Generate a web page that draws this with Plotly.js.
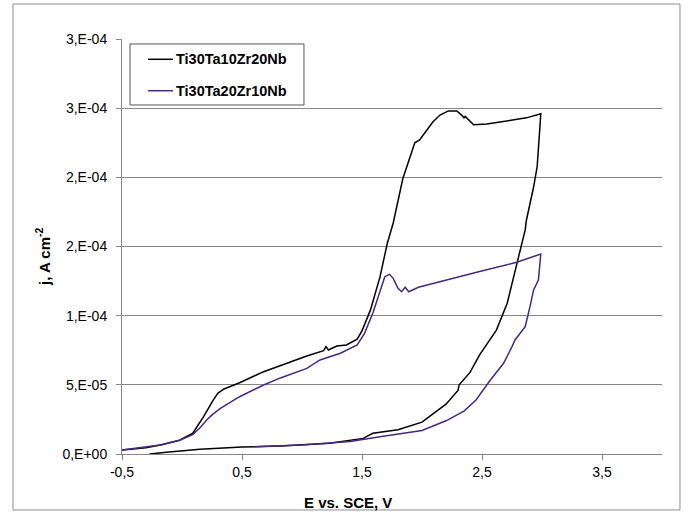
<!DOCTYPE html>
<html>
<head>
<meta charset="utf-8">
<script src="https://cdn.plot.ly/plotly-3.0.1.min.js"></script>
<style>html,body{margin:0;padding:0;background:#fff;}#chart{width:688px;height:513px;}</style>
</head>
<body>
<div id="chart"></div>
<script>
// Series names and colours
const seriesNames = ["Ti30Ta10Zr20Nb", "Ti30Ta20Zr10Nb"];
const seriesColors = ["#000000", "#46287f"];

// Ti30Ta10Zr20Nb (forward + reverse scan)
const blackE = [-0.5, -0.3, -0.18, -0.02, 0.09, 0.18, 0.26, 0.30, 0.35, 0.48, 0.68, 0.87, 1.04, 1.18, 1.20, 1.22, 1.29, 1.37, 1.46, 1.50, 1.57, 1.65, 1.71, 1.76, 1.84, 1.94, 1.98, 2.09, 2.15, 2.22, 2.29, 2.33, 2.35, 2.36, 2.43, 2.54, 2.71, 2.87, 2.99,
  2.96, 2.93, 2.87, 2.86, 2.79, 2.71, 2.62, 2.48, 2.40, 2.31, 2.30, 2.20, 2.00, 1.80, 1.59, 1.51, 1.23, 0.82, 0.50, 0.15, -0.13, -0.27];
const blackJ = [2.9e-6, 4.6e-6, 6.5e-6, 1.0e-5, 1.5e-5, 2.7e-5, 3.9e-5, 4.4e-5, 4.7e-5, 5.15e-5, 5.95e-5, 6.55e-5, 7.08e-5, 7.47e-5, 7.76e-5, 7.52e-5, 7.81e-5, 7.88e-5, 8.3e-5, 8.9e-5, 1.04e-4, 1.28e-4, 1.52e-4, 1.67e-4, 1.99e-4, 2.25e-4, 2.27e-4, 2.40e-4, 2.45e-4, 2.48e-4, 2.48e-4, 2.45e-4, 2.43e-4, 2.44e-4, 2.38e-4, 2.385e-4, 2.41e-4, 2.43e-4, 2.46e-4,
  2.08e-4, 1.93e-4, 1.69e-4, 1.62e-4, 1.38e-4, 1.09e-4, 8.96e-5, 7.16e-5, 5.9e-5, 5.0e-5, 4.6e-5, 3.6e-5, 2.3e-5, 1.75e-5, 1.5e-5, 1.13e-5, 7.7e-6, 5.8e-6, 5.0e-6, 3.4e-6, 1.2e-6, 0];

// Ti30Ta20Zr10Nb (forward + reverse scan)
const purpleE = [-0.5, -0.18, -0.02, 0.09, 0.15, 0.21, 0.26, 0.32, 0.48, 0.68, 0.82, 1.04, 1.15, 1.32, 1.46, 1.52, 1.59, 1.65, 1.69, 1.73, 1.76, 1.80, 1.83, 1.86, 1.89, 1.97, 2.15, 2.32, 2.48, 2.79, 2.99,
  2.97, 2.93, 2.90, 2.86, 2.775, 2.75, 2.68, 2.57, 2.45, 2.35, 2.20, 2.00, 1.65, 1.40, 1.00, 0.60];
const purpleJ = [2.9e-6, 6.5e-6, 1.0e-5, 1.4e-5, 1.9e-5, 2.5e-5, 2.9e-5, 3.3e-5, 4.14e-5, 4.99e-5, 5.5e-5, 6.19e-5, 6.8e-5, 7.28e-5, 7.88e-5, 8.7e-5, 1.017e-4, 1.186e-4, 1.282e-4, 1.299e-4, 1.27e-4, 1.198e-4, 1.173e-4, 1.205e-4, 1.173e-4, 1.205e-4, 1.246e-4, 1.289e-4, 1.32e-4, 1.386e-4, 1.446e-4,
  1.258e-4, 1.186e-4, 1.065e-4, 9.2e-5, 8.24e-5, 7.76e-5, 6.56e-5, 5.35e-5, 3.9e-5, 3.1e-5, 2.4e-5, 1.7e-5, 1.25e-5, 9e-6, 6.5e-6, 5.3e-6];

// Tick labels
const xTickVals = [-0.5, 0.5, 1.5, 2.5, 3.5];
const xTickText = ["-0,5", "0,5", "1,5", "2,5", "3,5"];
const yTickVals = [0, 5e-5, 1e-4, 1.5e-4, 2e-4, 2.5e-4, 3e-4];
const yTickText = ["0,E+00", "5,E-05", "1,E-04", "2,E-04", "2,E-04", "3,E-04", "3,E-04"];

const FONT = "Liberation Sans, Arial, sans-serif";

const traces = [
  {x: blackE, y: blackJ, mode: "lines", name: seriesNames[0],
   line: {color: seriesColors[0], width: 1.5}},
  {x: purpleE, y: purpleJ, mode: "lines", name: seriesNames[1],
   line: {color: seriesColors[1], width: 1.5}}
];

// Custom legend (box, sample lines, labels) in paper coordinates
const legendRowsY = [0.9511, 0.8754];
const legendShapes = [
  {type: "rect", xref: "paper", yref: "paper", x0: 0.0148, x1: 0.337, y0: 0.841, y1: 0.988,
   line: {color: "#555555", width: 1}, fillcolor: "#ffffff", layer: "above"}
];
const legendAnn = [];
seriesNames.forEach((nm, i) => {
  legendShapes.push({type: "line", xref: "paper", yref: "paper", x0: 0.0481, x1: 0.0944,
    y0: legendRowsY[i], y1: legendRowsY[i], line: {color: seriesColors[i], width: 1.5}, layer: "above"});
  legendAnn.push({text: "<b>" + nm + "</b>", xref: "paper", yref: "paper", x: 0.0963, y: legendRowsY[i],
    xanchor: "left", yanchor: "middle", showarrow: false,
    font: {family: FONT, size: 14.5, color: "#000"}});
});

const layout = {
  width: 688, height: 513,
  margin: {l: 122, r: 26, t: 39, b: 59},
  paper_bgcolor: "#ffffff", plot_bgcolor: "#ffffff",
  font: {family: FONT, size: 12, color: "#000"},
  hovermode: false,
  showlegend: false,
  xaxis: {range: [-0.5, 4.0], tickvals: xTickVals, ticktext: xTickText,
    showgrid: false, zeroline: false, showline: true, linecolor: "#868686", linewidth: 1,
    ticks: "outside", ticklen: 5, tickcolor: "#868686",
    tickfont: {family: FONT, size: 14, color: "#000"}},
  yaxis: {range: [0, 3e-4], tickvals: yTickVals, ticktext: yTickText,
    showgrid: true, gridcolor: "#868686", gridwidth: 1, zeroline: false,
    showline: true, linecolor: "#868686", linewidth: 1,
    ticks: "outside", ticklen: 5, tickcolor: "#868686", ticklabelstandoff: 6,
    tickfont: {family: FONT, size: 14, color: "#000"}},
  annotations: [
    {text: "<b>E vs. SCE, V</b>", xref: "paper", yref: "paper", x: 0.4185, y: -0.118,
     xanchor: "center", yanchor: "middle", showarrow: false,
     font: {family: FONT, size: 15, color: "#000"}},
    {text: "<b>j, A cm<sup>-2</sup></b>", xref: "paper", yref: "paper", x: -0.146, y: 0.475,
     xanchor: "center", yanchor: "middle", showarrow: false, textangle: -90,
     font: {family: FONT, size: 15, color: "#000"}}
  ].concat(legendAnn),
  shapes: [
    {type: "rect", xref: "paper", yref: "paper", x0: -0.2019, x1: 1.0333, y0: -0.1349, y1: 1.0843,
     line: {color: "#8c8c8c", width: 1}, fillcolor: "rgba(0,0,0,0)", layer: "below"}
  ].concat(legendShapes)
};

Plotly.newPlot("chart", traces, layout, {displayModeBar: false, staticPlot: true});
</script>
</body>
</html>
